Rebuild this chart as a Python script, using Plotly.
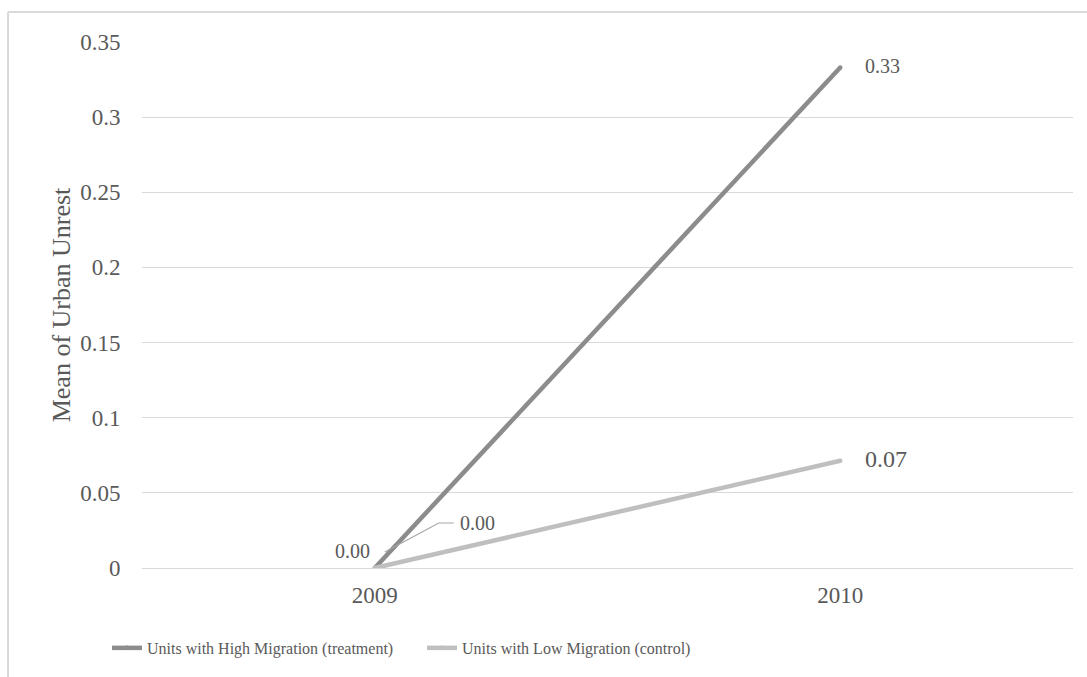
import plotly.graph_objects as go

# Chart data
years = ["2009", "2010"]
high_migration = [0.0, 0.333]
low_migration = [0.0, 0.0714]
series_names = ["Units with High Migration (treatment)", "Units with Low Migration (control)"]
y_ticks = [0, 0.05, 0.1, 0.15, 0.2, 0.25, 0.3, 0.35]
y_tick_text = ["0", "0.05", "0.1", "0.15", "0.2", "0.25", "0.3", "0.35"]

FONT = "Liberation Serif"
TEXT = "#595959"
DARK = "#8c8c8c"
LIGHT = "#bfbfbf"
GRID = "#d9d9d9"

fig = go.Figure()
fig.add_trace(go.Scatter(
    x=years, y=high_migration, name=series_names[0], mode="lines+markers",
    line=dict(color=DARK, width=4.5), marker=dict(color=DARK, size=4.5),
))
fig.add_trace(go.Scatter(
    x=years, y=low_migration, name=series_names[1], mode="lines+markers",
    line=dict(color=LIGHT, width=4.5), marker=dict(color=LIGHT, size=4.5),
))

# End-of-line value labels (2010)
fig.add_trace(go.Scatter(
    x=[years[1], years[1]], y=[high_migration[1], low_migration[1]],
    text=[f"{high_migration[1]:.2f}", f"{low_migration[1]:.2f}"],
    mode="markers+text", textposition="middle right",
    marker=dict(size=38, opacity=0),
    textfont=dict(family=FONT, color=TEXT, size=[20, 24]),
    showlegend=False, hoverinfo="skip",
))
# 2009 label of the high-migration series
fig.add_trace(go.Scatter(
    x=[years[0]], y=[high_migration[0]], text=[f"{high_migration[0]:.2f}"],
    mode="markers+text", textposition="top left",
    marker=dict(size=6, opacity=0),
    textfont=dict(family=FONT, color=TEXT, size=20),
    showlegend=False, hoverinfo="skip",
))

# 2009 label of the low-migration series, with its leader line
# (category axes take the category index as position)
first_idx = years.index("2009")
fig.add_annotation(x=first_idx, y=low_migration[0], xref="x", yref="y",
                   text=f"{low_migration[0]:.2f}", showarrow=False,
                   xanchor="left", yanchor="middle", xshift=83, yshift=45,
                   font=dict(family=FONT, color=TEXT, size=20))
fig.add_shape(type="path", xref="x", yref="y", xsizemode="pixel", ysizemode="pixel",
              xanchor=first_idx, yanchor=low_migration[0],
              path="M10,16 L64,45 L79,45", line=dict(color="#a6a6a6", width=1.2))

# chart frame (left and top edges)
fig.add_shape(type="line", xref="paper", yref="paper", x0=-0.1439, x1=-0.1439, y0=1.057, y1=-0.3,
              line=dict(color=GRID, width=2))
fig.add_shape(type="line", xref="paper", yref="paper", x0=-0.1439, x1=1.1, y0=1.057, y1=1.057,
              line=dict(color=GRID, width=2))

fig.update_layout(
    width=1087, height=677,
    margin=dict(l=142, r=14, t=42, b=109),
    paper_bgcolor="white", plot_bgcolor="white",
    font=dict(family=FONT, color=TEXT, size=22),
    showlegend=True,
    legend=dict(orientation="h", x=-0.0376, y=-0.152, xanchor="left", yanchor="middle",
                font=dict(size=16, family=FONT, color=TEXT),
                entrywidth=270, bgcolor="rgba(0,0,0,0)"),
    xaxis=dict(type="category", range=[-0.5, 1.5], showgrid=False, showline=False,
               zeroline=False, ticks="outside", ticklen=6, tickcolor="rgba(0,0,0,0)",
               tickfont=dict(size=23, family=FONT, color=TEXT)),
    yaxis=dict(range=[0, 0.35], tickvals=y_ticks, ticktext=y_tick_text,
               showgrid=True, gridcolor=GRID, gridwidth=1.3,
               zeroline=True, zerolinecolor=GRID, zerolinewidth=1.3,
               showline=False, ticks="outside", ticklen=16, tickcolor="rgba(0,0,0,0)",
               tickfont=dict(size=23, family=FONT, color=TEXT),
               title=dict(text="Mean of Urban Unrest", standoff=2,
                          font=dict(size=26, family=FONT, color=TEXT))),
)

fig.write_html("out.html")
